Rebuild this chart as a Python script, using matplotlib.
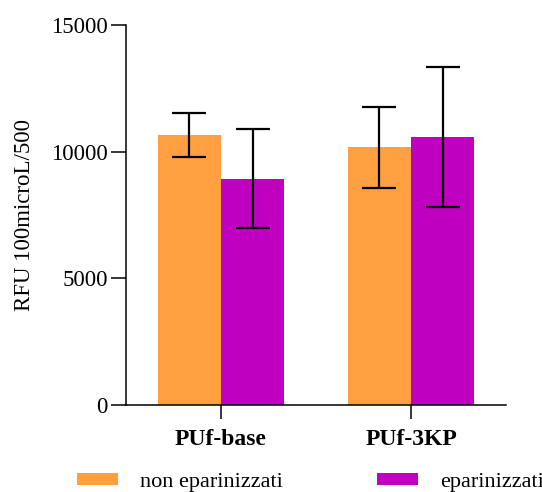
import numpy as np
import matplotlib.pyplot as plt

# data
groups = ["PUf-base", "PUf-3KP"]
series = ["non eparinizzati", "eparinizzati"]
means_non = [10660, 10180]
means_ep = [8930, 10590]
err_non = [860, 1600]
err_ep = [1950, 2760]
yticks = [0, 5000, 10000, 15000]

c_non = "#FF9F40"
c_ep = "#C000C0"

plt.rcParams['font.family'] = ['Liberation Serif', 'DejaVu Serif']

fig = plt.figure(figsize=(5.42, 4.92), dpi=100)
ax = fig.add_axes([126/542, 1 - 405/492, 380/542, 380/492])

x = np.arange(len(groups))
w = 1/3
ekw = dict(elinewidth=1.6, capthick=1.6, capsize=12, ecolor="black")
b1 = ax.bar(x - w/2, means_non, w, yerr=err_non, color=c_non, error_kw=ekw, label=series[0])
b2 = ax.bar(x + w/2, means_ep, w, yerr=err_ep, color=c_ep, error_kw=ekw, label=series[1])

ax.set_xlim(-0.5, 1.5)
ax.set_ylim(0, 15000)
ax.set_yticks(yticks)
ax.set_yticklabels([str(v) for v in yticks], fontsize=16.5)
ax.set_xticks(x)
ax.set_xticklabels(groups, fontsize=17, fontweight="bold")
ax.set_ylabel("RFU 100microL/500", fontsize=16.5, labelpad=12)

for s in ["top", "right"]:
    ax.spines[s].set_visible(False)
ax.spines["left"].set_linewidth(1.1)
ax.spines["bottom"].set_linewidth(1.1)
ax.tick_params(axis="y", length=11, width=1.1, pad=2)
ax.tick_params(axis="x", length=10, width=1.1, pad=7)

fig.legend(handles=[b1, b2], labels=series, loc="center left",
           bbox_to_anchor=(77/542, 1 - 482/492), ncol=2, frameon=False,
           fontsize=16, handlelength=1.85, handleheight=0.45,
           handletextpad=1.0, columnspacing=4.2, borderpad=0, borderaxespad=0)

fig.savefig("out.png", dpi=100)
